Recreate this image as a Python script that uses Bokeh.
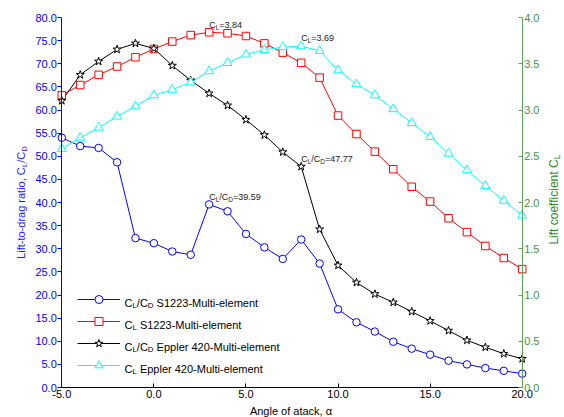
import math
from bokeh.plotting import figure
from bokeh.models import (Range1d, LinearAxis, FixedTicker, NumeralTickFormatter,
                          Legend, LegendItem, Label, ColumnDataSource)
from bokeh.embed import file_html
from bokeh.resources import INLINE

# ---------------- data ----------------
alpha = list(range(-5, 21))
ld_s1223 = [54.0, 52.2, 51.8, 48.7, 32.3, 31.2, 29.4, 28.7, 39.59, 38.1, 33.2, 30.3, 27.8,
            32.0, 26.8, 16.9, 14.1, 12.1, 9.9, 8.4, 7.1, 5.8, 5.0, 4.2, 3.6, 3.0]
cl_s1223 = [3.16, 3.27, 3.38, 3.47, 3.57, 3.66, 3.74, 3.81, 3.84, 3.83, 3.80, 3.72, 3.62,
            3.51, 3.35, 2.94, 2.74, 2.55, 2.36, 2.17, 2.01, 1.83, 1.68, 1.53, 1.40, 1.28]
ld_e420 = [62.0, 67.6, 70.5, 73.1, 74.4, 73.3, 69.6, 66.4, 63.6, 61.0, 57.9, 54.6, 50.9,
           47.77, 34.2, 26.4, 22.7, 20.2, 18.4, 16.4, 14.4, 12.3, 10.2, 8.7, 7.3, 6.2]
cl_e420 = [2.58, 2.70, 2.81, 2.93, 3.04, 3.16, 3.22, 3.30, 3.42, 3.51, 3.60, 3.65, 3.68,
           3.69, 3.64, 3.43, 3.28, 3.16, 3.01, 2.86, 2.71, 2.53, 2.35, 2.18, 2.02, 1.86]

x_ticks = [-5, 0, 5, 10, 15, 20]
ld_ticks = [0, 5, 10, 15, 20, 25, 30, 35, 40, 45, 50, 55, 60, 65, 70, 75, 80]
cl_ticks = [0, 0.5, 1.0, 1.5, 2.0, 2.5, 3.0, 3.5, 4.0]
x_lim = (-5, 20)
ld_lim = (0, 80)
cl_lim = (0, 4)

names = ["S1223-Multi-element", "S1223-Multi-element",
         "Eppler 420-Multi-element", "Eppler 420-Multi-element"]
# alpha at which each value annotation is attached
annot_alpha_ld_s1223 = 3
annot_alpha_ld_e420 = 8
annot_alpha_cl_s1223 = 3
annot_alpha_cl_e420 = 8

x_title = "Angle of atack, \u03b1"

# ---------------- layout constants ----------------
FONT = "Liberation Sans"
W, H = 564, 417
# pixel positions (from top-left) of the axis limits
PX_XL, PX_XR = 61.3, 521.7
PX_YB, PX_YT = 387.0, 17.0

BLUE = "#0000ff"
RED = "#ff0000"
BLACK = "#000000"
CYAN = "#00ffff"
GREEN_LINE = "#5aa55a"
GREEN_TXT = "#3f943f"
GREEN_TITLE = "#2a8a2a"

# Arial / Liberation Sans advance widths (per 1000 em)
AW = {' ': 278, '/': 278, '=': 584, '.': 278, ',': 278, '-': 333,
      'C': 722, 'L': 556, 'D': 722, 'S': 667, 'M': 833, 'E': 667,
      'a': 556, 'b': 556, 'c': 500, 'd': 556, 'e': 556, 'f': 278, 'g': 556, 'h': 556,
      'i': 222, 'j': 222, 'k': 500, 'l': 222, 'm': 833, 'n': 556, 'o': 556, 'p': 556,
      'q': 556, 'r': 333, 's': 500, 't': 278, 'u': 556, 'v': 500, 'w': 722, 'x': 500,
      'y': 500, 'z': 500}
for d in "0123456789":
    AW[d] = 556


def tw(s, size):
    return sum(AW.get(ch, 556) for ch in s) * size / 1000.0


# the frame covers the whole canvas; axes are placed at fixed data locations
sx = (PX_XR - PX_XL) / (x_lim[1] - x_lim[0])
sy = (PX_YB - PX_YT) / (ld_lim[1] - ld_lim[0])
xr = Range1d(x_lim[0] - PX_XL / sx, x_lim[1] + (W - PX_XR) / sx)
yr = Range1d(ld_lim[0] - (H - PX_YB) / sy, ld_lim[1] + PX_YT / sy)
k_cl = (cl_lim[1] - cl_lim[0]) / (ld_lim[1] - ld_lim[0])
cr = Range1d(yr.start * k_cl, yr.end * k_cl)

p = figure(width=W, height=H, x_range=xr, y_range=yr,
           output_backend="svg", toolbar_location=None,
           x_axis_location=None, y_axis_location=None,
           min_border_left=0, min_border_right=0, min_border_top=0, min_border_bottom=0)
p.extra_y_ranges = {"cl": cr}
p.outline_line_color = None
p.background_fill_color = "white"
p.border_fill_color = "white"
p.xgrid.visible = False
p.ygrid.visible = False


def rich(parts, x, y, size, color, angle=0.0, units="screen", y_range_name="default",
         x_off=0.0, y_off=0.0, sub_ratio=0.72, drop=0.27):
    adv = 0.0
    for txt, sub in parts:
        fs = size * sub_ratio if sub else size
        lead = len(txt) - len(txt.lstrip(" "))
        adv += tw(" " * lead, fs)
        txt2 = txt.lstrip(" ")
        d = size * drop if sub else 0.0
        if angle == 0:
            dx, dy = adv, -d
        else:
            dx, dy = d, adv
        p.add_layout(Label(x=x, y=y, x_units=units, y_units=units,
                           x_offset=x_off + dx, y_offset=y_off + dy, text=txt2,
                           text_font=FONT, text_font_size=f"{fs:.1f}px",
                           text_color=color, text_align="left",
                           text_baseline="alphabetic", angle=angle,
                           y_range_name=y_range_name))
        adv += tw(txt2, fs)
    return adv


def total_len(parts, size, sub_ratio=0.72):
    return sum(tw(t, size * sub_ratio if s else size) for t, s in parts)


# ---------------- series ----------------
src = ColumnDataSource(dict(alpha=alpha, ld_s1223=ld_s1223, cl_s1223=cl_s1223,
                            ld_e420=ld_e420, cl_e420=cl_e420))

l1 = p.line("alpha", "ld_s1223", source=src, line_color=BLUE, line_width=1)
l2 = p.line("alpha", "cl_s1223", source=src, line_color=RED, line_width=1, y_range_name="cl")
l3 = p.line("alpha", "ld_e420", source=src, line_color=BLACK, line_width=1)
l4 = p.line("alpha", "cl_e420", source=src, line_color=CYAN, line_width=1, y_range_name="cl")
m1 = p.scatter("alpha", "ld_s1223", source=src, marker="circle", size=7.5,
               line_color=BLUE, fill_color="white", line_width=1)
m2 = p.scatter("alpha", "cl_s1223", source=src, marker="square", size=7.5,
               line_color=RED, fill_color="white", line_width=1, y_range_name="cl")
m3 = p.scatter("alpha", "ld_e420", source=src, marker="star", size=8.5,
               line_color=BLACK, fill_color="white", line_width=1)
m4 = p.scatter("alpha", "cl_e420", source=src, marker="triangle", size=9,
               line_color=CYAN, fill_color="white", line_width=1, y_range_name="cl")

# ---------------- axes (fixed at the data limits) ----------------
axL = LinearAxis(fixed_location=x_lim[0], bounds=ld_lim, ticker=FixedTicker(ticks=ld_ticks),
                 formatter=NumeralTickFormatter(format="0.0"),
                 axis_line_color=BLUE, major_tick_line_color=BLUE,
                 major_tick_out=4, major_tick_in=0, minor_tick_line_color=None,
                 major_label_text_color=BLUE, major_label_text_font=FONT,
                 major_label_text_font_size="11px", major_label_standoff=1)
p.add_layout(axL, "left")

axR = LinearAxis(fixed_location=x_lim[1], y_range_name="cl", bounds=cl_lim,
                 ticker=FixedTicker(ticks=cl_ticks),
                 formatter=NumeralTickFormatter(format="0.0"),
                 axis_line_color=GREEN_LINE, major_tick_line_color=GREEN_LINE,
                 major_tick_out=0, major_tick_in=4, minor_tick_line_color=None,
                 major_label_text_color=GREEN_TXT, major_label_text_font=FONT,
                 major_label_text_font_size="11px", major_label_standoff=2)
p.add_layout(axR, "right")

axB = LinearAxis(fixed_location=ld_lim[0], bounds=x_lim, ticker=FixedTicker(ticks=x_ticks),
                 formatter=NumeralTickFormatter(format="0.0"),
                 axis_line_color=BLACK, major_tick_line_color=BLACK,
                 major_tick_out=0, major_tick_in=4, minor_tick_line_color=None,
                 major_label_text_color=BLACK, major_label_text_font=FONT,
                 major_label_text_font_size="11px", major_label_standoff=2)
p.add_layout(axB, "below")

# ---------------- axis titles (screen px from the bottom-left corner) ----------------
mid_y = H - (PX_YB + PX_YT) / 2
left_parts = [("Lift-to-drag ratio, C", False), ("L", True), ("/C", False), ("D", True)]
Ll = total_len(left_parts, 11)
rich(left_parts, 20.7, mid_y - Ll / 2, 11, "#2020ff", angle=math.pi / 2)

right_parts = [("Lift coefficient C", False), ("L", True)]
Lr = total_len(right_parts, 12)
rich(right_parts, 553, mid_y - Lr / 2 + 3, 12, GREEN_TITLE, angle=math.pi / 2)

p.add_layout(Label(x=(PX_XL + PX_XR) / 2 - 1, y=6.5, x_units="screen", y_units="screen",
                   text=x_title, text_font=FONT, text_font_size="11px",
                   text_color=BLACK, text_align="center", text_baseline="alphabetic"))

# ---------------- value annotations ----------------
ANN = "#222222"
i = alpha.index(annot_alpha_cl_s1223)
rich([("C", False), ("L", True), (f"={cl_s1223[i]:.2f}", False)], alpha[i], cl_s1223[i],
     9, ANN, units="data", y_range_name="cl", y_off=7.5)
i = alpha.index(annot_alpha_cl_e420)
rich([("C", False), ("L", True), (f"={cl_e420[i]:.2f}", False)], alpha[i], cl_e420[i],
     9, ANN, units="data", y_range_name="cl", y_off=8.5)
i = alpha.index(annot_alpha_ld_s1223)
rich([("C", False), ("L", True), ("/C", False), ("D", True), (f"={ld_s1223[i]:.2f}", False)],
     alpha[i], ld_s1223[i], 9, ANN, units="data", y_off=7.5)
i = alpha.index(annot_alpha_ld_e420)
rich([("C", False), ("L", True), ("/C", False), ("D", True), (f"={ld_e420[i]:.2f}", False)],
     alpha[i], ld_e420[i], 9, ANN, units="data", y_off=7.5)

# ---------------- legend ----------------
items = [LegendItem(label=" ", renderers=[l1, m1]),
         LegendItem(label=" ", renderers=[l2, m2]),
         LegendItem(label=" ", renderers=[l3, m3]),
         LegendItem(label=" ", renderers=[l4, m4])]
leg = Legend(items=items, location=(77, 42), glyph_width=43, glyph_height=20, spacing=2,
             padding=0, margin=0, border_line_color=None, background_fill_alpha=0,
             label_text_font_size="2px", label_standoff=0, label_width=0, label_height=0)
p.add_layout(leg)

leg_parts = [
    [("C", False), ("L", True), ("/C", False), ("D", True), (" " + names[0], False)],
    [("C", False), ("L", True), (" " + names[1], False)],
    [("C", False), ("L", True), ("/C", False), ("D", True), (" " + names[2], False)],
    [("C", False), ("L", True), (" " + names[3], False)],
]
for k, parts in enumerate(leg_parts):
    rich(parts, 124, 114.5 - 22 * k, 11, BLACK)

open("out.html", "w").write(file_html(p, INLINE))
